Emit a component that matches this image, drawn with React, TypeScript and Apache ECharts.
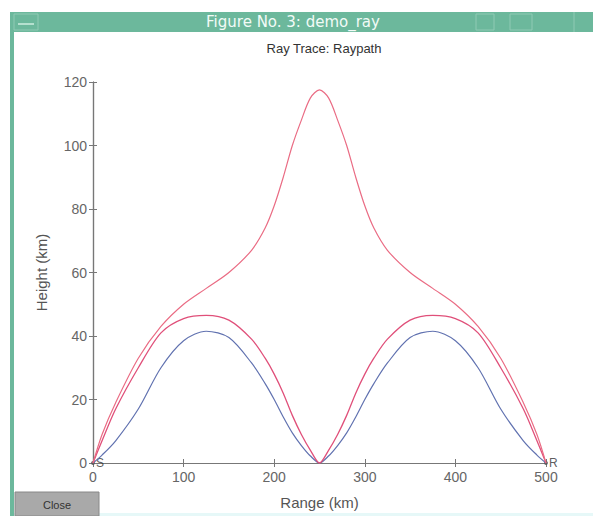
import React, { useEffect, useRef } from "react";
import * as echarts from "echarts";

const rangeKm = [0, 10, 25, 50, 75, 100, 125, 150, 175, 190, 200, 210, 220, 230, 240, 250, 260, 270, 280, 290, 300, 310, 325, 350, 375, 400, 425, 450, 475, 490, 500];
const outerRay = [0, 9, 19, 33, 43, 50, 55, 60, 67, 74, 81, 90, 100, 108, 115, 117.5, 115, 108, 100, 90, 81, 74, 67, 60, 55, 50, 43, 33, 19, 9, 0];
const middleRay = [0, 7, 17, 30, 41, 45.5, 46.5, 45, 39, 33, 28, 22, 15, 9, 4, 0, 4, 9, 15, 22, 28, 33, 39, 45, 46.5, 45.5, 41, 30, 17, 7, 0];
const lowRay = [0, 2.5, 7, 17, 30, 38.5, 41.5, 39.5, 31.5, 25, 20, 14.5, 9.5, 5.5, 2.2, 0, 2.2, 5.5, 9.5, 14.5, 20, 25, 31.5, 39.5, 41.5, 38.5, 30, 17, 7, 2.5, 0];
const endpoints = [
  { x: 0, y: 0, name: "S" },
  { x: 500, y: 0, name: "R" },
];
const xTicks = [0, 100, 200, 300, 400, 500];
const yTicks = [0, 20, 40, 60, 80, 100, 120];

const FONT = "Liberation Sans, Arial, sans-serif";
const TEAL = "#6cb89c";

export default function App() {
  const ref = useRef<HTMLDivElement>(null);
  useEffect(() => {
    const chart = echarts.init(ref.current!, null, { renderer: "svg" });
    const pair = (ys: number[]) => rangeKm.map((x, i) => [x, ys[i]]);
    const axisCommon = {
      axisLine: { show: true, lineStyle: { color: "#777", width: 1.2 } },
      axisTick: { show: true, inside: true, length: 4, lineStyle: { color: "#777" } },
      splitLine: { show: false },
    };
    chart.setOption({
      animation: false,
      backgroundColor: "#ffffff",
      title: {
        text: "Ray Trace: Raypath",
        left: 319,
        top: 37,
        textAlign: "center",
        textStyle: { fontFamily: FONT, fontSize: 13, fontWeight: "normal", color: "#333" },
      },
      grid: { left: 93, right: 593 - 546, top: 82, bottom: 516 - 463 },
      xAxis: [
        {
          type: "value",
          min: xTicks[0],
          max: xTicks[xTicks.length - 1],
          interval: 100,
          position: "bottom",
          name: "Range (km)",
          nameLocation: "middle",
          nameGap: 32,
          nameTextStyle: { fontFamily: FONT, fontSize: 15, color: "#555" },
          ...axisCommon,
          axisLabel: { fontFamily: FONT, fontSize: 14, color: "#666", margin: 7 },
        },
        {
          type: "value",
          min: 0,
          max: 500,
          interval: 100,
          position: "top",
          ...axisCommon,
          axisLabel: { show: false },
        },
      ],
      yAxis: [
        {
          type: "value",
          min: yTicks[0],
          max: yTicks[yTicks.length - 1],
          interval: 20,
          position: "left",
          name: "Height (km)",
          nameLocation: "middle",
          nameGap: 44,
          nameTextStyle: { fontFamily: FONT, fontSize: 15, color: "#555" },
          ...axisCommon,
          axisLabel: { fontFamily: FONT, fontSize: 14, color: "#666", margin: 6 },
        },
        {
          type: "value",
          min: 0,
          max: 120,
          interval: 20,
          position: "right",
          ...axisCommon,
          axisLabel: { show: false },
        },
      ],
      series: [
        {
          type: "line",
          data: pair(lowRay),
          smooth: 0.3,
          showSymbol: false,
          lineStyle: { color: "#6172b0", width: 1.2 },
        },
        {
          type: "line",
          data: pair(middleRay),
          smooth: 0.3,
          showSymbol: false,
          lineStyle: { color: "#e0507a", width: 1.3 },
        },
        {
          type: "line",
          data: pair(outerRay),
          smooth: 0.3,
          showSymbol: false,
          lineStyle: { color: "#ea6c84", width: 1.2 },
        },
        {
          type: "scatter",
          data: endpoints.map((p) => ({ value: [p.x, p.y], name: p.name })),
          symbol: "circle",
          symbolSize: 4,
          itemStyle: { color: "#555" },
          label: {
            show: true,
            formatter: (p: any) => p.name,
            position: "right",
            distance: 1,
            fontFamily: FONT,
            fontSize: 12,
            color: "#333",
          },
        },
      ],
      graphic: [
        { type: "rect", shape: { x: 10, y: 12, width: 583, height: 20 }, style: { fill: TEAL } },
        { type: "rect", shape: { x: 10, y: 12, width: 4, height: 504 }, style: { fill: TEAL } },
        { type: "rect", shape: { x: 14, y: 14, width: 24, height: 16 }, style: { fill: "none", stroke: "#8fcab4", lineWidth: 1 } },
        { type: "line", shape: { x1: 18, y1: 24, x2: 34, y2: 24 }, style: { stroke: "#b5e0cf", lineWidth: 2 } },
        { type: "rect", shape: { x: 476, y: 14, width: 18, height: 16 }, style: { fill: "none", stroke: "#8fcab4", lineWidth: 1 } },
        { type: "rect", shape: { x: 510, y: 14, width: 22, height: 16 }, style: { fill: "none", stroke: "#8fcab4", lineWidth: 1 } },
        { type: "line", shape: { x1: 574, y1: 12, x2: 574, y2: 32 }, style: { stroke: "#8fcab4", lineWidth: 1 } },
        {
          type: "text",
          x: 293,
          y: 22,
          style: {
            text: "Figure No. 3: demo_ray",
            fontFamily: "DejaVu Sans, sans-serif",
            fontSize: 15,
            fill: "#f2fbf7",
            textAlign: "center",
            textVerticalAlign: "middle",
          },
        },
        { type: "rect", shape: { x: 14, y: 513, width: 579, height: 3 }, style: { fill: "#e6f8f8" } },
        { type: "rect", shape: { x: 15, y: 492, width: 84, height: 24 }, style: { fill: "#a9a9a9", stroke: "#888", lineWidth: 1 } },
        {
          type: "text",
          x: 57,
          y: 505,
          style: {
            text: "Close",
            fontFamily: FONT,
            fontSize: 11,
            fill: "#333",
            textAlign: "center",
            textVerticalAlign: "middle",
          },
        },
      ],
    });
    return () => chart.dispose();
  }, []);
  return (
    <div
      ref={ref}
      style={{ position: "fixed", left: 0, top: 0, width: 593, height: 516 }}
    />
  );
}
